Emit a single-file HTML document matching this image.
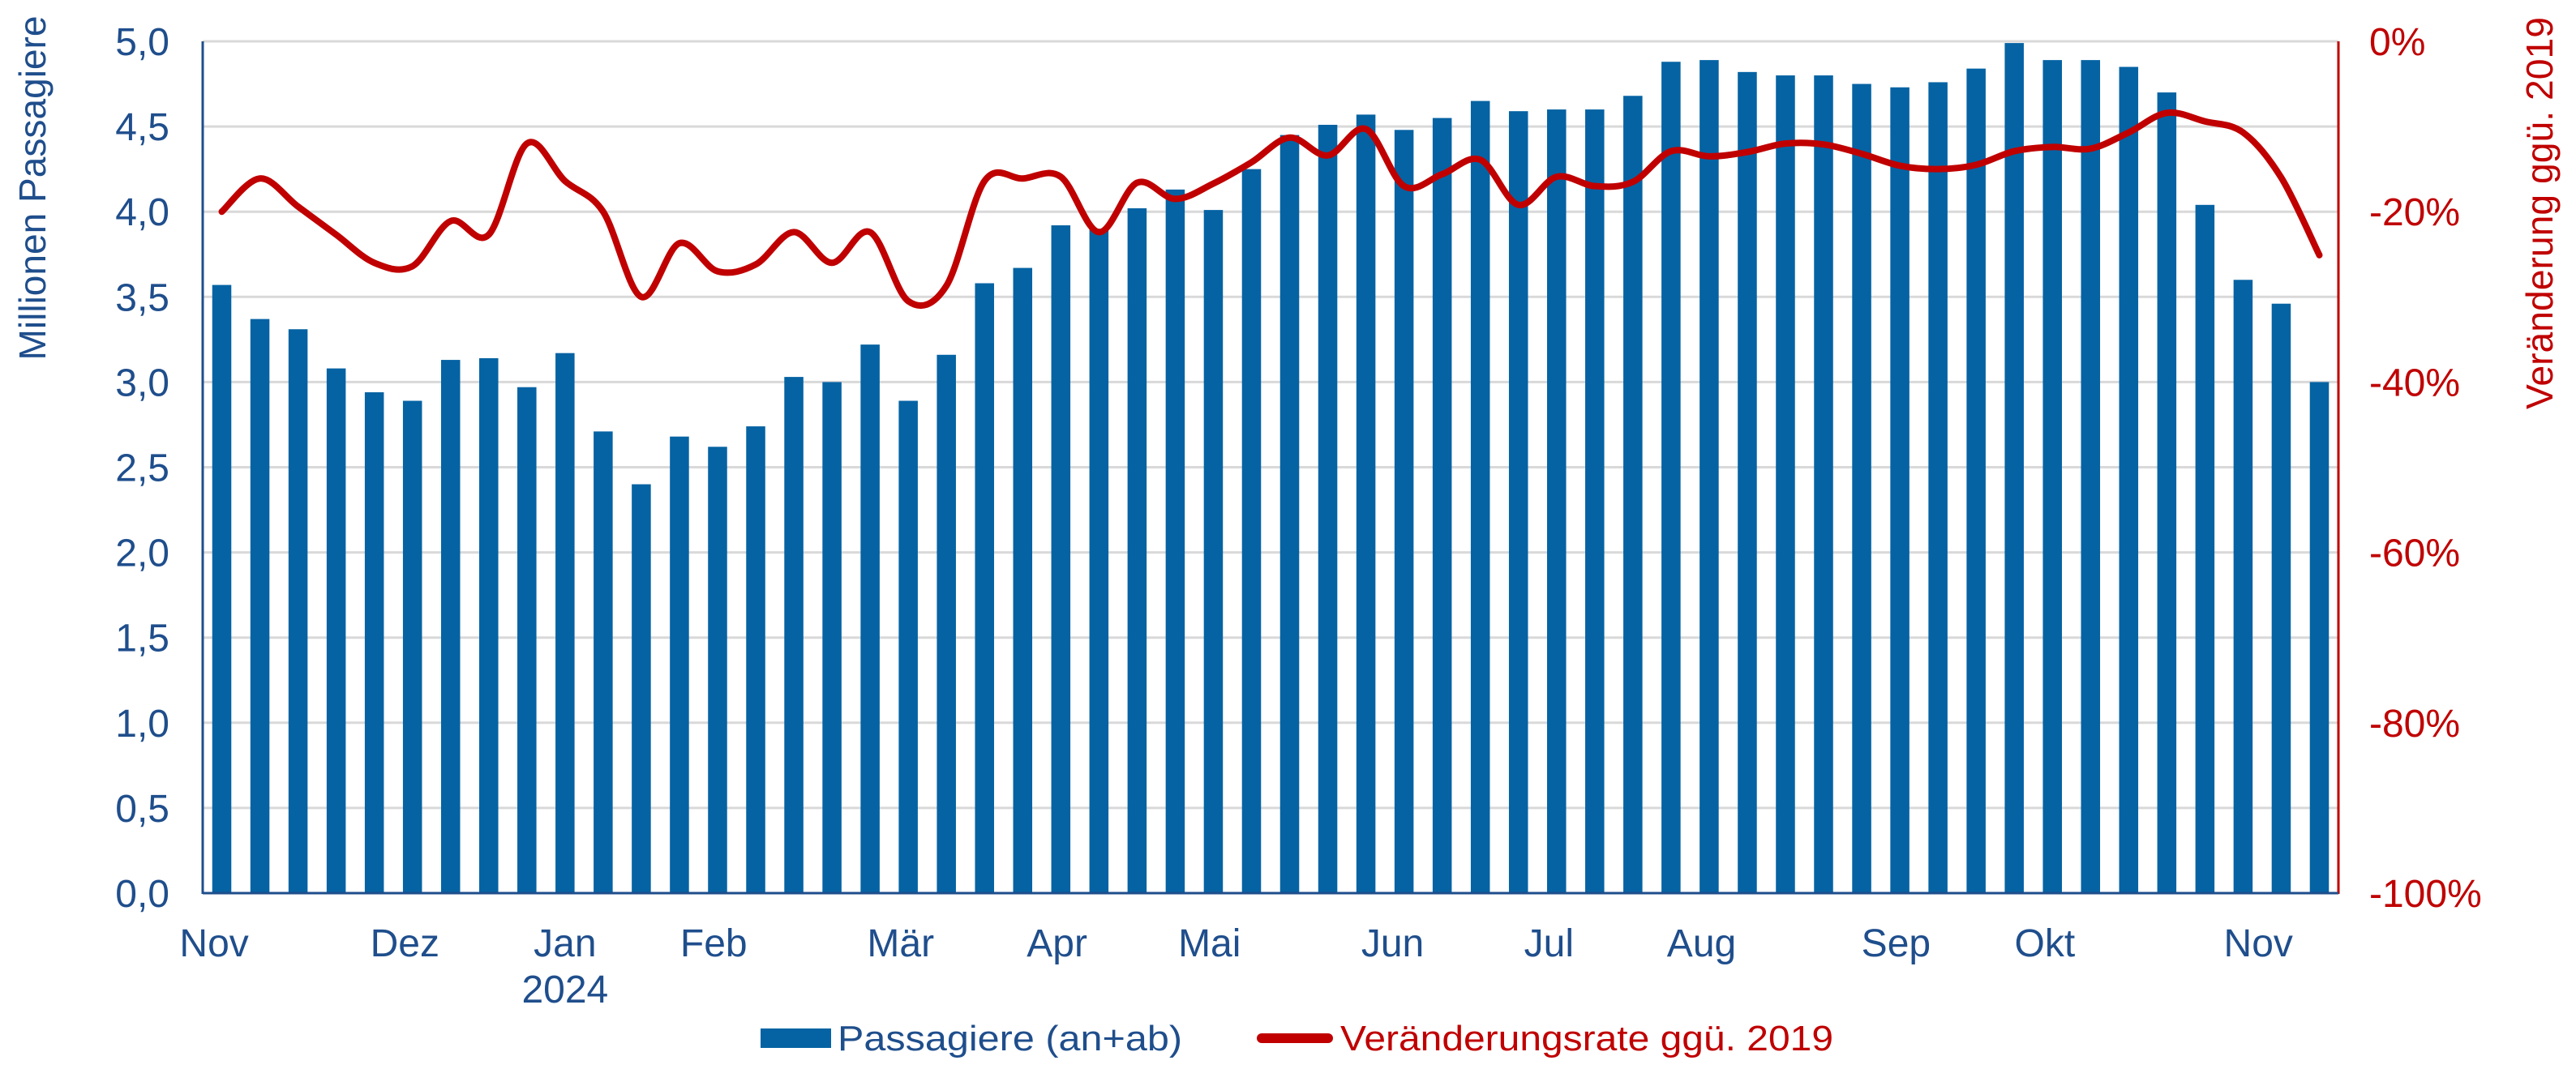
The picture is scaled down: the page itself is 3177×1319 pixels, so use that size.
<!DOCTYPE html>
<html><head><meta charset="utf-8"><style>
html,body{margin:0;padding:0;background:#fff}
svg{display:block;font-family:"Liberation Sans",sans-serif}
</style></head><body>
<svg id="chart" width="3177" height="1319" viewBox="0 0 3177 1319" xmlns="http://www.w3.org/2000/svg">
<g id="grid"></g>
<g id="bars"></g>
<g id="axes"></g>
<g id="line"></g>
<g id="labels"></g>
<text transform="translate(56,232) rotate(-90)" text-anchor="middle" font-size="46" fill="#1f4e8c" textLength="425" lengthAdjust="spacingAndGlyphs">Millionen Passagiere</text>
<text transform="translate(3148,263) rotate(-90)" text-anchor="middle" font-size="46" fill="#c00000" textLength="484" lengthAdjust="spacingAndGlyphs">Veränderung ggü. 2019</text>
<g>
<rect x="938" y="1269" width="87" height="24" fill="#0563a3"/>
<text x="1033" y="1296" font-size="44" fill="#1f4e8c" textLength="425" lengthAdjust="spacingAndGlyphs">Passagiere (an+ab)</text>
<line x1="1556" y1="1281" x2="1638" y2="1281" stroke="#c00000" stroke-width="12" stroke-linecap="round"/>
<text x="1653" y="1296" font-size="44" fill="#c00000" textLength="608" lengthAdjust="spacingAndGlyphs">Veränderungsrate ggü. 2019</text>
</g>
</svg>
<script>
const passengers=[3.57,3.37,3.31,3.08,2.94,2.89,3.13,3.14,2.97,3.17,2.71,2.40,2.68,2.62,2.74,3.03,3.00,3.22,2.89,3.16,3.58,3.67,3.92,3.90,4.02,4.13,4.01,4.25,4.45,4.51,4.57,4.48,4.55,4.65,4.59,4.60,4.60,4.68,4.88,4.89,4.82,4.80,4.80,4.75,4.73,4.76,4.84,4.99,4.89,4.89,4.85,4.70,4.04,3.60,3.46,3.00];
const changeRate=[-20,-16.1,-19.4,-22.7,-26,-26.4,-21.1,-22.7,-12,-16.4,-20,-30,-23.7,-27,-26.2,-22.4,-26,-22.4,-30.5,-28.7,-16.4,-16.1,-15.9,-22.4,-16.6,-18.5,-16.7,-14.2,-11.3,-13.4,-10.3,-17,-15.6,-13.9,-19.2,-15.9,-17,-16.5,-12.9,-13.5,-13,-12,-12.1,-13.2,-14.6,-15,-14.5,-12.9,-12.4,-12.6,-10.7,-8.4,-9.4,-10.7,-16,-25.1];
const leftTicks=["0,0","0,5","1,0","1,5","2,0","2,5","3,0","3,5","4,0","4,5","5,0"];
const leftTickValues=[0,0.5,1,1.5,2,2.5,3,3.5,4,4.5,5];
const rightTicks=["-100%","-80%","-60%","-40%","-20%","0%"];
const rightTickValues=[-100,-80,-60,-40,-20,0];
const monthLabels=["Nov","Dez","Jan","Feb","Mär","Apr","Mai","Jun","Jul","Aug","Sep","Okt","Nov"];
const monthPos=[-0.2,4.8,9.0,12.9,17.8,21.9,25.9,30.7,34.8,38.8,43.9,47.8,53.4];

const NS="http://www.w3.org/2000/svg";
const L=250,R=2884,T=51,B=1102;
const slot=(R-L)/passengers.length;
const xIdx=i=>L+slot*(i+0.5);
const yL=v=>B-(v/5)*(B-T);
const yR=p=>B-((p+100)/100)*(B-T);
function mk(tag,parent,attrs){const e=document.createElementNS(NS,tag);for(const k in attrs)e.setAttribute(k,attrs[k]);parent.appendChild(e);return e;}
const grid=document.getElementById('grid'),bars=document.getElementById('bars'),axes=document.getElementById('axes'),line=document.getElementById('line'),labels=document.getElementById('labels');
leftTickValues.forEach((v,i)=>{
  if(v>0){const g=mk('line',grid,{x1:L,x2:R,y1:yL(v),y2:yL(v),stroke:'#d9d9d9','stroke-width':3});
  
  }
  const t=mk('text',labels,{x:209,y:yL(v)+17,'text-anchor':'end','font-size':48,fill:'#1f4e8c'});
  t.textContent=leftTicks[i];
  
  
});
rightTickValues.forEach((v,i)=>{
  const t=mk('text',labels,{x:2922,y:yR(v)+17,'font-size':48,fill:'#c00000'});
  t.textContent=rightTicks[i];
  
  
});
passengers.forEach((v,i)=>{
  const w=slot*0.5;
  const r=mk('rect',bars,{x:xIdx(i)-w/2,y:yL(v),width:w,height:B-yL(v),fill:'#0563a3'});
  
  
});
const a1=mk('line',axes,{x1:L,x2:L,y1:T,y2:B+1,stroke:'#1f4e8c','stroke-width':3});


const a2=mk('line',axes,{x1:R,x2:R,y1:T,y2:B+1,stroke:'#c00000','stroke-width':3});


const a3=mk('line',axes,{x1:L,x2:R,y1:B,y2:B,stroke:'#1f4e8c','stroke-width':3});


// smooth line (cardinal spline)
const pts=changeRate.map((p,i)=>[xIdx(i),yR(p)]);
let d='M'+pts[0][0]+','+pts[0][1];
const tn=1/6;
for(let i=0;i<pts.length-1;i++){
  const p0=pts[i-1]||pts[i],p1=pts[i],p2=pts[i+1],p3=pts[i+2]||pts[i+1];
  const c1=[p1[0]+(p2[0]-p0[0])*tn,p1[1]+(p2[1]-p0[1])*tn];
  const c2=[p2[0]-(p3[0]-p1[0])*tn,p2[1]-(p3[1]-p1[1])*tn];
  d+=' C'+c1[0]+','+c1[1]+' '+c2[0]+','+c2[1]+' '+p2[0]+','+p2[1];
}
const path=mk('path',line,{d:d,fill:'none',stroke:'#c00000','stroke-width':8,'stroke-linejoin':'round','stroke-linecap':'round'});


monthLabels.forEach((m,i)=>{
  const t=mk('text',labels,{x:xIdx(monthPos[i]),y:1180,'text-anchor':'middle','font-size':48,fill:'#1f4e8c'});
  t.textContent=m;
  
  
});
const yr=mk('text',labels,{x:xIdx(monthPos[2]),y:1237,'text-anchor':'middle','font-size':48,fill:'#1f4e8c'});
yr.textContent="2024";


</script>
</body></html>
